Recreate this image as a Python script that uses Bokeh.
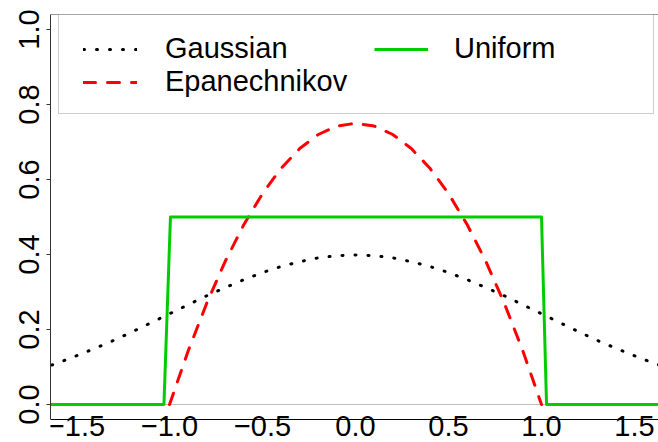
from bokeh.plotting import figure
from bokeh.models import (LinearAxis, FixedTicker, Range1d, Span, BoxAnnotation,
                          Legend, LegendItem)
from bokeh.embed import file_html
from bokeh.resources import INLINE

# ---- data ----
series_names = ["Gaussian", "Epanechnikov", "Uniform"]

gauss_x = [-1.7, -1.6, -1.5, -1.4, -1.3, -1.2, -1.1, -1.0, -0.9, -0.8, -0.7, -0.6,
           -0.5, -0.4, -0.3, -0.2, -0.1, 0.0, 0.1, 0.2, 0.3, 0.4, 0.5, 0.6, 0.7,
           0.8, 0.9, 1.0, 1.1, 1.2, 1.3, 1.4, 1.5, 1.6, 1.7]
gauss_y = [0.094, 0.111, 0.130, 0.150, 0.171, 0.194, 0.218, 0.242, 0.266, 0.290,
           0.312, 0.333, 0.352, 0.368, 0.381, 0.391, 0.397, 0.399, 0.397, 0.391,
           0.381, 0.368, 0.352, 0.333, 0.312, 0.290, 0.266, 0.242, 0.218, 0.194,
           0.171, 0.150, 0.130, 0.111, 0.094]

epan_x = [-1.0, -0.9, -0.8, -0.7, -0.6, -0.5, -0.4, -0.3, -0.2, -0.1, 0.0,
          0.1, 0.2, 0.3, 0.4, 0.5, 0.6, 0.7, 0.8, 0.9, 1.0]
epan_y = [0.0, 0.1425, 0.27, 0.3825, 0.48, 0.5625, 0.63, 0.6825, 0.72, 0.7425, 0.75,
          0.7425, 0.72, 0.6825, 0.63, 0.5625, 0.48, 0.3825, 0.27, 0.1425, 0.0]

unif_x = [-1.7, -1.03, -0.995, 1.0, 1.027, 1.7]
unif_y = [0.0, 0.0, 0.5, 0.5, 0.0, 0.0]

x_ticks = [-1.5, -1.0, -0.5, 0.0, 0.5, 1.0, 1.5]
x_tick_labels = ["\u22121.5", "\u22121.0", "\u22120.5", "0.0", "0.5", "1.0", "1.5"]
y_ticks = [0.0, 0.2, 0.4, 0.6, 0.8, 1.0]
y_tick_labels = ["0.0", "0.2", "0.4", "0.6", "0.8", "1.0"]

# ---- layout ----
X0, X1 = -1.640, 1.629
Y0, Y1 = -0.04, 1.04       # plotting box
YB = -0.1013               # extra room below the box for the x tick labels
FONT = "Liberation Sans"
FS = "29px"

p = figure(width=658, height=442, output_backend="svg", toolbar_location=None,
           x_range=Range1d(X0, X1), y_range=Range1d(YB, Y1),
           x_axis_location=None, y_axis_location=None,
           min_border_left=50, min_border_right=0, min_border_top=14, min_border_bottom=0,
           outline_line_color=None, background_fill_color="white",
           border_fill_color="white")
p.grid.visible = False

xaxis = LinearAxis(ticker=FixedTicker(ticks=x_ticks, minor_ticks=[]),
                   major_label_overrides=dict(zip(x_ticks, x_tick_labels)),
                   fixed_location=Y0,
                   axis_line_color="black", axis_line_width=1,
                   major_tick_line_color=None, minor_tick_line_color=None,
                   major_tick_in=0, major_tick_out=0,
                   major_label_standoff=-4,
                   major_label_text_font=FONT, major_label_text_font_size=FS,
                   major_label_text_color="black")
p.add_layout(xaxis, "below")

yaxis = LinearAxis(ticker=FixedTicker(ticks=y_ticks, minor_ticks=[]),
                   major_label_overrides=dict(zip(y_ticks, y_tick_labels)),
                   bounds=(Y0, Y1),
                   axis_line_color="#333333", axis_line_width=1,
                   major_tick_line_color="#333333", minor_tick_line_color=None,
                   major_tick_in=0, major_tick_out=4,
                   major_label_standoff=7,
                   major_label_orientation="vertical",
                   major_label_text_font=FONT, major_label_text_font_size=FS,
                   major_label_text_color="black")
p.add_layout(yaxis, "left")

topaxis = LinearAxis(ticker=FixedTicker(ticks=[], minor_ticks=[]),
                     fixed_location=Y1,
                     axis_line_color="#333333", axis_line_width=1,
                     major_tick_line_color=None, minor_tick_line_color=None,
                     major_label_text_font_size="0px")
p.add_layout(topaxis, "above")

p.add_layout(Span(location=0, dimension="width", line_color="#bebebe",
                  line_width=1, level="underlay"))

r_g = p.line(gauss_x, gauss_y, line_color="black", line_width=3,
             line_dash="1 12", line_cap="round")
r_e = p.line(epan_x, epan_y, line_color="#ff0000", line_width=3,
             line_dash="12 12", line_cap="round")
r_u = p.line(unif_x, unif_y, line_color="#00cd00", line_width=3, line_join="round")

# legend frame
p.add_layout(BoxAnnotation(left=-1.597, right=1.602, bottom=0.776,
                           fill_color="white", fill_alpha=1,
                           line_color="#555555", line_width=1, level="annotation"))

common = dict(border_line_color=None, background_fill_alpha=0, padding=0, margin=0,
              spacing=0, glyph_width=54, glyph_height=32, label_height=32,
              label_text_font=FONT, label_text_font_size=FS, label_text_color="black")
leg1 = Legend(items=[LegendItem(label=series_names[0], renderers=[r_g]),
                     LegendItem(label=series_names[1], renderers=[r_e])],
              location=(33, 344), label_standoff=28, **common)
leg2 = Legend(items=[LegendItem(label=series_names[2], renderers=[r_u])],
              location=(324, 377), label_standoff=26, **common)
p.add_layout(leg1)
p.add_layout(leg2)

open("out.html", "w").write(file_html(p, INLINE))
